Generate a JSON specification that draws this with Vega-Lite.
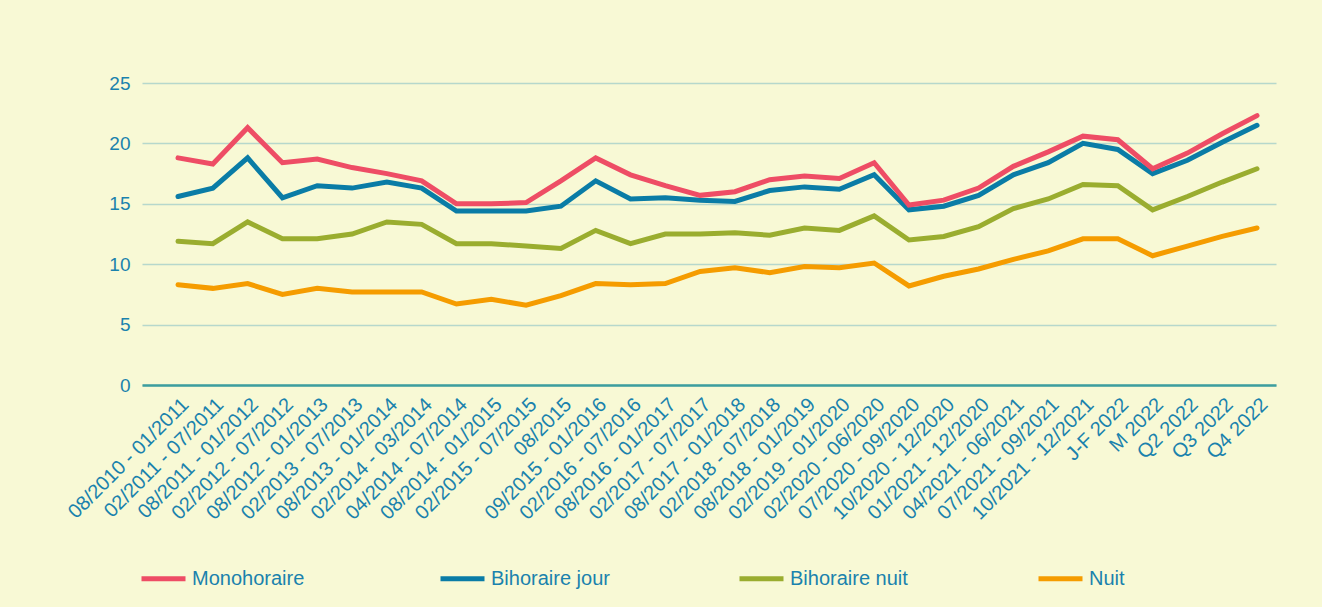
{
  "$schema": "https://vega.github.io/schema/vega-lite/v6.json",
  "width": 1134,
  "height": 302,
  "autosize": {"type": "none"},
  "padding": {"left": 142, "top": 83, "right": 46, "bottom": 222},
  "background": "#f8f9d5",
  "data": {"values": [
    {"p": "08/2010 - 01/2011", "Monohoraire": 18.8, "Bihoraire jour": 15.6, "Bihoraire nuit": 11.9, "Nuit": 8.3},
    {"p": "02/2011 - 07/2011", "Monohoraire": 18.3, "Bihoraire jour": 16.3, "Bihoraire nuit": 11.7, "Nuit": 8.0},
    {"p": "08/2011 - 01/2012", "Monohoraire": 21.3, "Bihoraire jour": 18.8, "Bihoraire nuit": 13.5, "Nuit": 8.4},
    {"p": "02/2012 - 07/2012", "Monohoraire": 18.4, "Bihoraire jour": 15.5, "Bihoraire nuit": 12.1, "Nuit": 7.5},
    {"p": "08/2012 - 01/2013", "Monohoraire": 18.7, "Bihoraire jour": 16.5, "Bihoraire nuit": 12.1, "Nuit": 8.0},
    {"p": "02/2013 - 07/2013", "Monohoraire": 18.0, "Bihoraire jour": 16.3, "Bihoraire nuit": 12.5, "Nuit": 7.7},
    {"p": "08/2013 - 01/2014", "Monohoraire": 17.5, "Bihoraire jour": 16.8, "Bihoraire nuit": 13.5, "Nuit": 7.7},
    {"p": "02/2014 - 03/2014", "Monohoraire": 16.9, "Bihoraire jour": 16.3, "Bihoraire nuit": 13.3, "Nuit": 7.7},
    {"p": "04/2014 - 07/2014", "Monohoraire": 15.0, "Bihoraire jour": 14.4, "Bihoraire nuit": 11.7, "Nuit": 6.7},
    {"p": "08/2014 - 01/2015", "Monohoraire": 15.0, "Bihoraire jour": 14.4, "Bihoraire nuit": 11.7, "Nuit": 7.1},
    {"p": "02/2015 - 07/2015", "Monohoraire": 15.1, "Bihoraire jour": 14.4, "Bihoraire nuit": 11.5, "Nuit": 6.6},
    {"p": "08/2015", "Monohoraire": 16.9, "Bihoraire jour": 14.8, "Bihoraire nuit": 11.3, "Nuit": 7.4},
    {"p": "09/2015 - 01/2016", "Monohoraire": 18.8, "Bihoraire jour": 16.9, "Bihoraire nuit": 12.8, "Nuit": 8.4},
    {"p": "02/2016 - 07/2016", "Monohoraire": 17.4, "Bihoraire jour": 15.4, "Bihoraire nuit": 11.7, "Nuit": 8.3},
    {"p": "08/2016 - 01/2017", "Monohoraire": 16.5, "Bihoraire jour": 15.5, "Bihoraire nuit": 12.5, "Nuit": 8.4},
    {"p": "02/2017 - 07/2017", "Monohoraire": 15.7, "Bihoraire jour": 15.3, "Bihoraire nuit": 12.5, "Nuit": 9.4},
    {"p": "08/2017 - 01/2018", "Monohoraire": 16.0, "Bihoraire jour": 15.2, "Bihoraire nuit": 12.6, "Nuit": 9.7},
    {"p": "02/2018 - 07/2018", "Monohoraire": 17.0, "Bihoraire jour": 16.1, "Bihoraire nuit": 12.4, "Nuit": 9.3},
    {"p": "08/2018 - 01/2019", "Monohoraire": 17.3, "Bihoraire jour": 16.4, "Bihoraire nuit": 13.0, "Nuit": 9.8},
    {"p": "02/2019 - 01/2020", "Monohoraire": 17.1, "Bihoraire jour": 16.2, "Bihoraire nuit": 12.8, "Nuit": 9.7},
    {"p": "02/2020 - 06/2020", "Monohoraire": 18.4, "Bihoraire jour": 17.4, "Bihoraire nuit": 14.0, "Nuit": 10.1},
    {"p": "07/2020 - 09/2020", "Monohoraire": 14.9, "Bihoraire jour": 14.5, "Bihoraire nuit": 12.0, "Nuit": 8.2},
    {"p": "10/2020 - 12/2020", "Monohoraire": 15.3, "Bihoraire jour": 14.8, "Bihoraire nuit": 12.3, "Nuit": 9.0},
    {"p": "01/2021 - 12/2020", "Monohoraire": 16.3, "Bihoraire jour": 15.7, "Bihoraire nuit": 13.1, "Nuit": 9.6},
    {"p": "04/2021 - 06/2021", "Monohoraire": 18.1, "Bihoraire jour": 17.4, "Bihoraire nuit": 14.6, "Nuit": 10.4},
    {"p": "07/2021 - 09/2021", "Monohoraire": 19.3, "Bihoraire jour": 18.4, "Bihoraire nuit": 15.4, "Nuit": 11.1},
    {"p": "10/2021 - 12/2021", "Monohoraire": 20.6, "Bihoraire jour": 20.0, "Bihoraire nuit": 16.6, "Nuit": 12.1},
    {"p": "J-F 2022", "Monohoraire": 20.3, "Bihoraire jour": 19.5, "Bihoraire nuit": 16.5, "Nuit": 12.1},
    {"p": "M 2022", "Monohoraire": 17.9, "Bihoraire jour": 17.5, "Bihoraire nuit": 14.5, "Nuit": 10.7},
    {"p": "Q2 2022", "Monohoraire": 19.2, "Bihoraire jour": 18.6, "Bihoraire nuit": 15.6, "Nuit": 11.5},
    {"p": "Q3 2022", "Monohoraire": 20.8, "Bihoraire jour": 20.1, "Bihoraire nuit": 16.8, "Nuit": 12.3},
    {"p": "Q4 2022", "Monohoraire": 22.3, "Bihoraire jour": 21.5, "Bihoraire nuit": 17.9, "Nuit": 13.0}
  ]},
  "transform": [
    {"fold": ["Nuit", "Bihoraire nuit", "Bihoraire jour", "Monohoraire"], "as": ["serie", "valeur"]}
  ],
  "mark": {"type": "line", "strokeWidth": 5, "strokeCap": "round", "strokeJoin": "miter"},
  "encoding": {
    "x": {
      "field": "p", "type": "nominal", "sort": null,
      "scale": {"type": "point", "padding": 0.79, "align": 0.655},
      "axis": {
        "title": null, "labelAngle": -45, "labelAlign": "right", "labelBaseline": "top",
        "labelFontSize": 20, "labelFont": "Liberation Sans", "labelColor": "#1a82ad",
        "labelOverlap": false, "labelLimit": 400, "labelPadding": 9, "labelDx": -4,
        "ticks": false, "grid": false, "domainColor": "#3d9e9e", "domainWidth": 2.5
      }
    },
    "y": {
      "field": "valeur", "type": "quantitative",
      "scale": {"domain": [0, 25], "nice": false},
      "axis": {
        "title": null, "values": [0, 5, 10, 15, 20, 25], "domain": false, "ticks": false,
        "labelFontSize": 19, "labelFont": "Liberation Sans", "labelColor": "#1a82ad", "labelPadding": 12,
        "gridColor": "#b6d8cc", "gridWidth": 1.5
      }
    },
    "color": {
      "field": "serie", "type": "nominal",
      "scale": {
        "domain": ["Monohoraire", "Bihoraire jour", "Bihoraire nuit", "Nuit"],
        "range": ["#ee4d65", "#0a7ca6", "#9aad2f", "#f59c00"]
      },
      "legend": {
        "title": null, "orient": "none", "legendX": -3, "legendY": 471,
        "direction": "horizontal", "columns": 4, "gridAlign": "all", "columnPadding": 119,
        "symbolType": "stroke", "symbolSize": 1936, "symbolStrokeWidth": 5,
        "labelFontSize": 20, "labelFont": "Liberation Sans", "labelColor": "#1a82ad", "labelOffset": 4, "labelLimit": 300
      }
    }
  },
  "config": {"view": {"stroke": null}}
}
